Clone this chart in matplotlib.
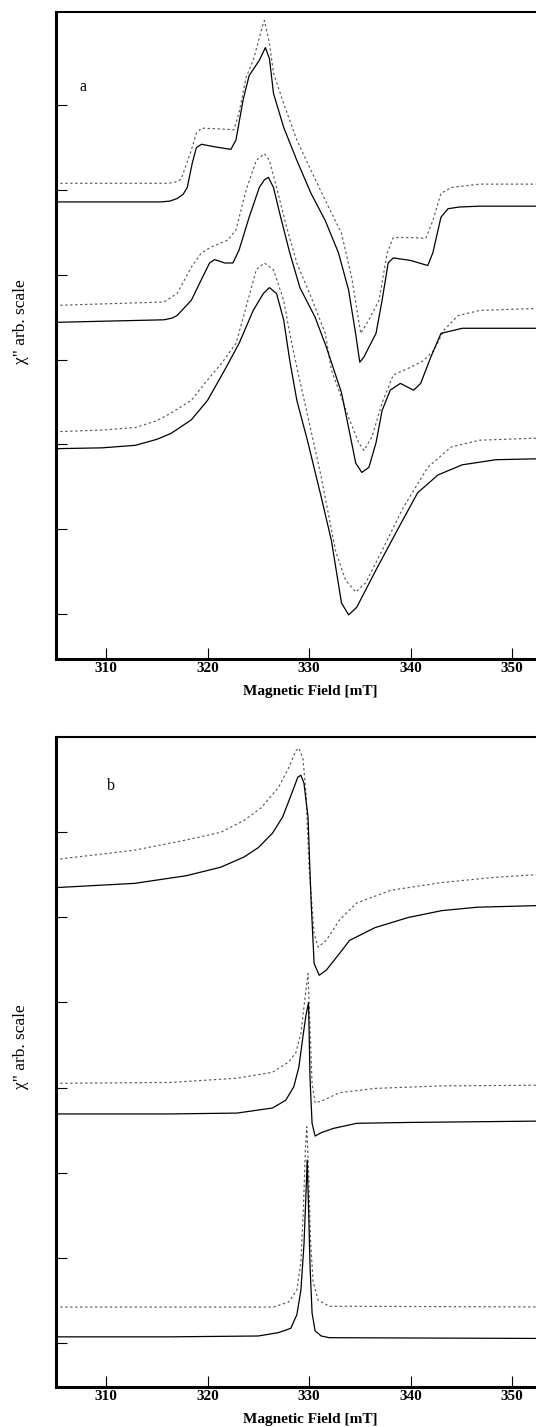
import matplotlib
matplotlib.use("Agg")
import matplotlib.pyplot as plt
import numpy as np

plt.rcParams['font.family'] = ['Liberation Serif', 'DejaVu Serif']

# ---- data: (field [mT], chi'' in tick units) ----
# panel a, top pair
a1_solid = [(305.0, 4.86), (315.4, 4.86), (316.3, 4.87), (317.0, 4.90), (317.6, 4.95), (318.0, 5.03),
            (318.5, 5.32), (318.9, 5.50), (319.4, 5.54), (320.7, 5.51), (322.3, 5.48), (322.8, 5.59),
            (323.5, 6.06), (324.1, 6.35), (325.1, 6.53), (325.7, 6.68), (326.1, 6.55), (326.5, 6.14),
            (327.5, 5.74), (328.8, 5.35), (330.2, 4.96), (331.6, 4.64), (332.9, 4.26), (333.9, 3.82),
            (334.6, 3.30), (335.0, 2.97), (335.4, 3.03), (336.6, 3.31), (337.2, 3.70), (337.8, 4.14),
            (338.3, 4.20), (340.0, 4.17), (341.7, 4.11), (342.2, 4.26), (343.0, 4.68), (343.7, 4.78),
            (344.8, 4.80), (346.8, 4.81), (356.0, 4.81)]
a1_dash = [(305.0, 5.08), (316.2, 5.08), (317.0, 5.10), (317.4, 5.13), (318.4, 5.47), (318.9, 5.67),
           (319.4, 5.73), (321.4, 5.72), (322.6, 5.71), (323.1, 5.91), (323.8, 6.33), (324.5, 6.53),
           (325.5, 6.97), (325.6, 7.00), (326.1, 6.73), (326.5, 6.38), (327.5, 6.02), (328.8, 5.59),
           (330.2, 5.23), (331.6, 4.88), (333.2, 4.49), (334.2, 3.97), (335.1, 3.31), (335.9, 3.47),
           (336.9, 3.70), (337.7, 4.26), (338.3, 4.44), (340.0, 4.44), (341.5, 4.43), (342.2, 4.64),
           (343.0, 4.96), (344.0, 5.03), (346.8, 5.07), (356.0, 5.07)]
# panel a, middle pair
a2_solid = [(305.0, 3.44), (315.7, 3.47), (316.5, 3.49), (317.0, 3.52), (318.4, 3.70), (319.5, 3.97),
            (320.2, 4.14), (320.7, 4.18), (321.7, 4.14), (322.5, 4.14), (323.1, 4.29), (324.1, 4.68),
            (325.1, 5.03), (325.6, 5.12), (326.0, 5.15), (326.5, 5.03), (327.1, 4.73), (328.1, 4.26),
            (329.1, 3.85), (330.6, 3.50), (331.7, 3.15), (333.2, 2.61), (334.2, 2.02), (334.6, 1.78),
            (335.2, 1.67), (335.9, 1.73), (336.6, 2.02), (337.2, 2.40), (338.0, 2.64), (339.0, 2.72),
            (340.3, 2.64), (341.0, 2.72), (342.0, 3.03), (343.0, 3.31), (345.1, 3.37), (356.0, 3.37)]
a2_dash = [(305.0, 3.64), (315.7, 3.68), (317.0, 3.78), (318.4, 4.09), (319.4, 4.26), (320.4, 4.33),
           (322.0, 4.41), (322.8, 4.53), (323.8, 5.00), (324.8, 5.35), (325.6, 5.43), (326.1, 5.35),
           (326.8, 5.03), (327.8, 4.56), (328.8, 4.14), (330.2, 3.74), (331.6, 3.31), (332.2, 2.88),
           (333.9, 2.32), (334.9, 2.02), (335.4, 1.93), (336.2, 2.09), (337.2, 2.49), (338.3, 2.82),
           (340.0, 2.91), (341.3, 2.99), (342.3, 3.11), (343.3, 3.35), (344.7, 3.52), (346.8, 3.58),
           (356.0, 3.62)]
# panel a, bottom pair
a3_solid = [(305.0, 1.95), (309.6, 1.96), (312.9, 1.99), (315.0, 2.06), (316.4, 2.13), (318.4, 2.29),
            (320.0, 2.52), (321.7, 2.88), (323.1, 3.19), (324.5, 3.58), (325.5, 3.78), (326.1, 3.85),
            (326.8, 3.78), (327.5, 3.47), (328.1, 2.99), (328.8, 2.52), (329.9, 2.02), (331.2, 1.38),
            (332.2, 0.87), (333.2, 0.13), (333.9, -0.01), (334.7, 0.08), (336.6, 0.52), (338.7, 0.99),
            (340.7, 1.43), (342.7, 1.64), (345.1, 1.76), (348.4, 1.82), (356.0, 1.84)]
a3_dash = [(305.0, 2.15), (309.6, 2.17), (312.9, 2.20), (315.0, 2.28), (316.4, 2.37), (318.4, 2.52),
           (320.0, 2.76), (321.4, 2.96), (322.8, 3.19), (323.8, 3.62), (324.8, 4.06), (325.6, 4.14),
           (326.5, 4.06), (327.5, 3.70), (328.1, 3.31), (328.8, 2.91), (329.9, 2.32), (331.2, 1.62),
           (332.6, 0.75), (333.6, 0.40), (334.6, 0.26), (335.6, 0.37), (337.2, 0.75), (339.3, 1.26),
           (341.7, 1.73), (344.0, 1.97), (346.8, 2.05), (356.0, 2.09)]

# panel b, top pair
b1_solid = [(305.0, 5.35), (312.8, 5.40), (317.9, 5.49), (321.3, 5.59), (323.6, 5.71), (325.0, 5.82),
            (326.4, 5.99), (327.4, 6.18), (328.4, 6.49), (328.9, 6.65), (329.2, 6.67), (329.5, 6.58),
            (329.9, 6.18), (330.2, 5.20), (330.5, 4.46), (331.0, 4.32), (331.7, 4.38), (332.7, 4.53),
            (334.0, 4.73), (336.5, 4.88), (339.8, 5.00), (343.1, 5.08), (346.6, 5.12), (356.0, 5.15)]
b1_dash = [(305.0, 5.68), (312.8, 5.79), (317.9, 5.91), (321.3, 6.00), (323.6, 6.14), (325.3, 6.29),
           (327.0, 6.53), (328.0, 6.76), (328.7, 6.96), (329.0, 6.99), (329.4, 6.87), (329.7, 6.46),
           (330.0, 5.59), (330.5, 4.81), (330.9, 4.65), (331.7, 4.73), (333.0, 4.97), (334.7, 5.17),
           (338.1, 5.32), (343.1, 5.41), (348.2, 5.47), (356.0, 5.53)]
# panel b, middle pair
b2_solid = [(305.0, 2.69), (316.3, 2.69), (322.9, 2.70), (326.4, 2.76), (327.7, 2.85), (328.5, 3.01),
            (329.0, 3.24), (329.4, 3.60), (329.7, 3.85), (329.95, 4.00), (330.1, 3.10), (330.3, 2.58),
            (330.6, 2.43), (331.2, 2.47), (332.4, 2.52), (334.7, 2.58), (339.8, 2.59), (356.0, 2.61)]
b2_dash = [(305.0, 3.05), (316.3, 3.06), (322.9, 3.11), (326.4, 3.18), (328.0, 3.30), (328.7, 3.41),
           (329.2, 3.64), (329.6, 4.05), (329.9, 4.34), (330.1, 3.70), (330.3, 3.05), (330.6, 2.82),
           (331.4, 2.85), (333.0, 2.94), (336.5, 2.99), (343.1, 3.02), (356.0, 3.03)]
# panel b, bottom pair
b3_solid = [(305.0, 0.07), (316.3, 0.07), (325.0, 0.08), (327.0, 0.12), (328.2, 0.17), (328.8, 0.33),
            (329.2, 0.62), (329.5, 1.15), (329.7, 1.75), (329.82, 2.15), (329.95, 1.60), (330.1, 0.90),
            (330.3, 0.35), (330.6, 0.14), (331.2, 0.08), (332.0, 0.06), (356.0, 0.05)]
b3_dash = [(305.0, 0.42), (326.5, 0.42), (328.0, 0.48), (328.8, 0.62), (329.2, 0.95), (329.45, 1.60),
           (329.65, 2.30), (329.78, 2.54), (329.95, 2.05), (330.15, 1.20), (330.4, 0.72), (330.9, 0.50),
           (332.0, 0.43), (356.0, 0.42)]

field_ticks = [310, 320, 330, 340, 350]
chi_ticks = [0, 1, 2, 3, 4, 5, 6]

fig = plt.figure(figsize=(5.36, 14.27), dpi=100)

# axes run past the right edge, like the cropped scan
ax_a = fig.add_axes([0.1045, 0.5382, 1.0149, 0.4534])
ax_b = fig.add_axes([0.1045, 0.0280, 1.0149, 0.4555])


def draw_pair(ax, solid, dash):
    s = np.array(solid).T
    d = np.array(dash).T
    ax.plot(d[0], d[1], color="0.35", lw=0.85, linestyle=(0, (2.0, 2.2)))
    ax.plot(s[0], s[1], color="black", lw=0.9)


for ax, pairs, ylim in [(ax_a, [(a1_solid, a1_dash), (a2_solid, a2_dash), (a3_solid, a3_dash)], (-0.53, 7.10)),
                        (ax_b, [(b1_solid, b1_dash), (b2_solid, b2_dash), (b3_solid, b3_dash)], (-0.52, 7.12))]:
    for solid, dash in pairs:
        draw_pair(ax, solid, dash)
    ax.set_xlim(305.07, 358.67)
    ax.set_ylim(*ylim)
    ax.set_xticks(field_ticks)
    ax.set_yticks(chi_ticks)
    ax.set_yticklabels([])
    ax.tick_params(direction="in", length=8, width=0.8, pad=2)
    ax.tick_params(axis="x", labelsize=11)
    for lab in ax.get_xticklabels():
        lab.set_fontweight("bold")
    ax.spines["left"].set_linewidth(2.2)
    ax.spines["bottom"].set_linewidth(2.2)
    ax.spines["top"].set_linewidth(1.5)
    ax.spines["right"].set_visible(False)

# labels (figure coords in pixels / size)
W, H = 536.0, 1427.0
for top_px, letter, lx, ly in [(12, "a", 79, 87), (737, "b", 107, 786)]:
    fig.text(lx / W, 1 - ly / H, letter, fontsize=11.5, ha="left", va="center")
    fig.text(21 / W, 1 - (top_px + 310) / H, "χ\" arb. scale", fontsize=12.5,
             rotation=90, ha="center", va="center")

fig.text(310 / W, 1 - 692 / H, "Magnetic Field [mT]", fontsize=11, fontweight="bold",
         ha="center", va="center")
fig.text(310 / W, 1 - 1420 / H, "Magnetic Field [mT]", fontsize=11, fontweight="bold",
         ha="center", va="center")

fig.savefig("out.png", dpi=100)
